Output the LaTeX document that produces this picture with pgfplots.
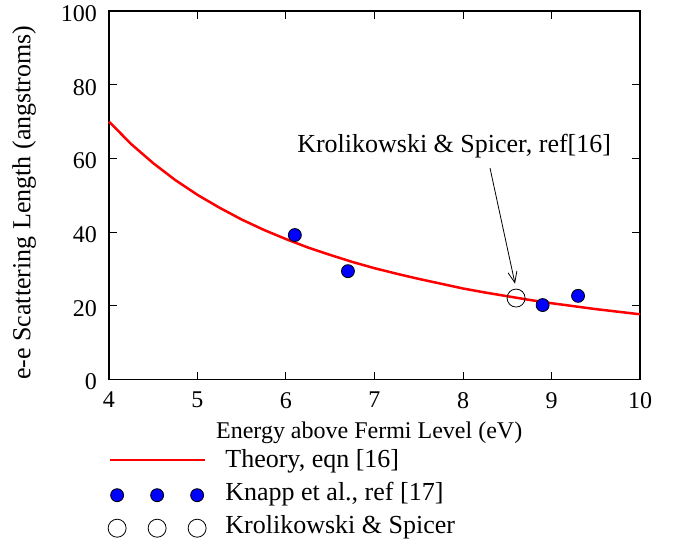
\documentclass[border=0pt]{standalone}
\usepackage{fontspec}
\setmainfont{Liberation Serif}
\usepackage{pgfplots}
\usepackage{pgfplotstable}
\pgfplotsset{compat=1.18}
\usetikzlibrary{arrows.meta}

% Legend images: a long line, and a row of three marks
\pgfplotsset{
  longline legend/.style={legend image code/.code={\draw[##1] (0pt,2pt) -- (95pt,2pt);}},
  threemarks legend/.style={legend image code/.code={\draw[##1] plot coordinates {(7pt,0pt) (47pt,0pt) (87pt,0pt)};}},
}

% Theory curve, eqn [16]
\pgfplotstableread{
E     L
4.00  70.0
4.25  63.9
4.50  58.7
4.75  54.1
5.00  50.1
5.25  46.6
5.50  43.4
5.75  40.6
6.00  38.1
6.25  35.8
6.50  33.8
6.75  31.9
7.00  30.2
7.25  28.7
7.50  27.3
7.75  26.0
8.00  24.7
8.25  23.6
8.50  22.6
8.75  21.6
9.00  20.7
9.25  19.9
9.50  19.1
9.75  18.4
10.00 17.7
}\theory

% Knapp et al., ref [17]
\pgfplotstableread{
E    L
6.1  39.2
6.7  29.4
8.9  20.2
9.3  22.7
}\knapp

% Krolikowski & Spicer, ref [16]
\pgfplotstableread{
E    L
8.6  22.1
}\krol

\begin{document}
\begin{tikzpicture}
\begin{axis}[
  name=ax, at={(0,0)}, anchor=south west,
  scale only axis, width=531pt, height=368.5pt,
  xmin=4, xmax=10, ymin=0, ymax=100,
  xtick={4,5,...,10}, ytick={0,20,...,100},
  xticklabels={}, yticklabels={},
  tick align=inside, major tick length=8pt,
  axis line style={line width=1.2pt},
  every tick/.style={black, line width=1pt},
  clip=false,
  xlabel={Energy above Fermi Level (eV)},
  xlabel style={font=\fontsize{24}{28}\selectfont,
    at={(axis description cs:0.49,-0.145)}, anchor=center},
  ylabel={e-e Scattering Length (angstroms)},
  ylabel style={font=\fontsize{26}{30}\selectfont,
    at={(axis description cs:-0.16,0.48)}, anchor=center},
  legend cell align=left,
  legend style={at={(axis description cs:-0.002,-0.19)}, anchor=north west,
    draw=none, fill=none, inner sep=0pt,
    font=\fontsize{26}{30}\selectfont,
    nodes={inner sep=0pt, text height=18pt, text depth=7pt},
    column sep=19pt, row sep=8pt},
]
\addplot[red, line width=2.5pt, longline legend]
  table[x=E, y=L] {\theory};
\addlegendentry{Theory, eqn [16]}

\addplot[only marks, mark=*, mark size=6.5pt,
  mark options={fill=blue, draw=black, line width=0.8pt}, threemarks legend]
  table[x=E, y=L] {\knapp};
\addlegendentry{Knapp et al., ref [17]}

\addplot[only marks, mark=o, mark size=9pt,
  mark options={draw=black, line width=0.8pt}, threemarks legend]
  table[x=E, y=L] {\krol};
\addlegendentry{Krolikowski \& Spicer}

% tick numbers, set in the serif text face
\pgfplotsinvokeforeach{4,5,6,7,8,9,10}{
  \node[font=\fontsize{24}{28}\selectfont, inner sep=0pt, anchor=north,
    yshift=-12.5pt] at (axis cs:#1,0) {#1};
}
\pgfplotsinvokeforeach{0,20,40,60,80,100}{
  \node[font=\fontsize{24}{28}\selectfont, inner sep=0pt, anchor=east,
    xshift=-12pt, yshift=-2.5pt] at (axis cs:4,#1) {#1};
}

\node[font=\fontsize{26}{30}\selectfont] at (axis cs:7.9,63.2)
  {Krolikowski \& Spicer, ref[16]};
\draw[line width=0.8pt, -{Straight Barb[length=11pt,width=9pt]}]
  (axis cs:8.305,57.4) -- (axis cs:8.588,26.0);
\end{axis}
\pgfresetboundingbox
\path[use as bounding box] (-109pt,-163.5pt) rectangle (574pt,379.5pt);
\end{tikzpicture}
\end{document}
